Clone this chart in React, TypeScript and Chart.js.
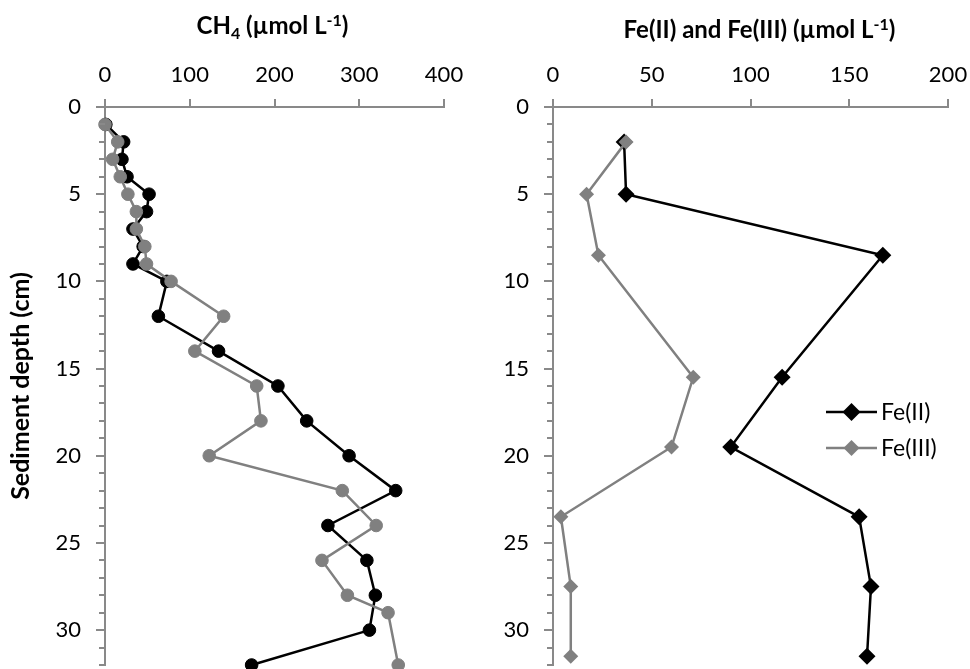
import React, { useEffect, useRef } from 'react';
import { Chart, registerables } from 'chart.js';

Chart.register(...registerables);

const FONT = 'Lato, "Open Sans", sans-serif';
const AXIS = '#898989';
const BLACK = '#000000';
const GRAY = '#808080';

// ---- data ----
const CH4_DEPTH_BLACK = [1, 2, 3, 4, 5, 6, 7, 8, 9, 10, 12, 14, 16, 18, 20, 22, 24, 26, 28, 30, 32];
const CH4_BLACK = [1, 22, 20, 26, 52, 49, 33, 45, 33, 73, 63, 134, 204, 238, 288, 343, 263, 309, 319, 312, 173];
const CH4_DEPTH_GRAY = [1, 2, 3, 4, 5, 6, 7, 8, 9, 10, 12, 14, 16, 18, 20, 22, 24, 26, 28, 29, 32];
const CH4_GRAY = [0, 15, 9, 18, 27, 37, 37, 47, 49, 78, 140, 106, 179, 184, 123, 280, 320, 256, 286, 334, 346];

const FE_DEPTH = [2, 5, 8.5, 15.5, 19.5, 23.5, 27.5, 31.5];
const FE_II = [36, 37, 167, 116, 90, 155, 161, 159];
const FE_III = [37, 17, 23, 71, 60, 4, 9, 9];

const CH4_TICKS = [0, 100, 200, 300, 400];
const FE_TICKS = [0, 50, 100, 150, 200];
const DEPTH_TICKS = [0, 5, 10, 15, 20, 25, 30];
const DEPTH_MAX = 32;

const Y_TITLE = 'Sediment depth (cm)';
const LEGEND_LABELS = ['Fe(II)', 'Fe(III)'];

type Part = { t: string; k?: 'sub' | 'sup' };
const CH4_TITLE: Part[] = [{ t: 'CH' }, { t: '4', k: 'sub' }, { t: ' (µmol L' }, { t: '-1', k: 'sup' }, { t: ')' }];
const FE_TITLE: Part[] = [{ t: 'Fe(II) and Fe(III) (µmol L' }, { t: '-1', k: 'sup' }, { t: ')' }];

function drawRich(ctx: CanvasRenderingContext2D, parts: Part[], cx: number, baseline: number, size: number) {
  const small = Math.round(size * 0.66);
  const fontOf = (k?: string) => `bold ${k ? small : size}px ${FONT}`;
  let total = 0;
  for (const p of parts) {
    ctx.font = fontOf(p.k);
    total += ctx.measureText(p.t).width;
  }
  let x = cx - total / 2;
  ctx.textAlign = 'left';
  ctx.textBaseline = 'alphabetic';
  ctx.fillStyle = '#000';
  for (const p of parts) {
    ctx.font = fontOf(p.k);
    const dy = p.k === 'sub' ? size * 0.22 : p.k === 'sup' ? -size * 0.32 : 0;
    ctx.fillText(p.t, x, baseline + dy);
    x += ctx.measureText(p.t).width;
  }
}

const minorTicks = {
  id: 'minorTicks',
  afterDraw(chart: any) {
    const y = chart.scales.y;
    const left = chart.chartArea.left;
    const ctx = chart.ctx;
    ctx.save();
    ctx.strokeStyle = AXIS;
    ctx.lineWidth = 2;
    for (let v = 0; v <= DEPTH_MAX; v++) {
      if (v % 5 === 0) continue;
      const py = Math.round(y.getPixelForValue(v));
      ctx.beginPath();
      ctx.moveTo(left - 6, py);
      ctx.lineTo(left, py);
      ctx.stroke();
    }
    ctx.restore();
  },
};

function titlePlugin(parts: Part[], dx: number, baseline: number, size: number) {
  return {
    id: 'richTitle',
    afterDraw(chart: any) {
      const { left, right } = chart.chartArea;
      const ctx = chart.ctx;
      ctx.save();
      drawRich(ctx, parts, (left + right) / 2 + dx, baseline, size);
      ctx.restore();
    },
  };
}

function diamond(ctx: CanvasRenderingContext2D, x: number, y: number, r: number) {
  ctx.beginPath();
  ctx.moveTo(x, y - r);
  ctx.lineTo(x + r, y);
  ctx.lineTo(x, y + r);
  ctx.lineTo(x - r, y);
  ctx.closePath();
  ctx.fill();
}

const legendPlugin = {
  id: 'feLegend',
  afterDraw(chart: any) {
    const { left, top } = chart.chartArea;
    const ctx = chart.ctx;
    const x0 = left + 273;
    ctx.save();
    LEGEND_LABELS.forEach((lab, i) => {
      const ds = chart.data.datasets[i];
      const y = top + 305 + i * 36;
      ctx.strokeStyle = ds.borderColor;
      ctx.fillStyle = ds.backgroundColor;
      ctx.lineWidth = ds.borderWidth;
      ctx.beginPath();
      ctx.moveTo(x0, y);
      ctx.lineTo(x0 + 51, y);
      ctx.stroke();
      diamond(ctx, x0 + 25.5, y, ds.pointRadius + 0.5);
      ctx.fillStyle = '#000';
      ctx.font = `23px ${FONT}`;
      ctx.textAlign = 'left';
      ctx.textBaseline = 'middle';
      ctx.fillText(lab, x0 + 55, y + 1);
    });
    ctx.restore();
  },
};

function zeroPad(s: any) {
  s.paddingTop = 0;
  s.paddingBottom = 0;
  s.paddingLeft = 0;
  s.paddingRight = 0;
}

function axes(xMax: number, xTicks: number[], yWidth: number, withTitle: boolean) {
  const tickFont = { family: FONT, size: 22 };
  return {
    x: {
      type: 'linear',
      position: 'top',
      min: 0,
      max: xMax,
      afterBuildTicks: (s: any) => {
        s.ticks = xTicks.map((v) => ({ value: v }));
      },
      afterFit: (s: any) => {
        s.height = 107;
        zeroPad(s);
      },
      grid: { drawOnChartArea: false, drawTicks: true, tickLength: 8, color: AXIS, lineWidth: 2 },
      border: { display: true, color: AXIS, width: 2 },
      ticks: { font: tickFont, color: '#000', padding: 11, maxRotation: 0, autoSkip: false },
    },
    y: {
      type: 'linear',
      reverse: true,
      min: 0,
      max: DEPTH_MAX,
      afterBuildTicks: (s: any) => {
        s.ticks = DEPTH_TICKS.map((v) => ({ value: v }));
      },
      afterFit: (s: any) => {
        s.width = yWidth;
        zeroPad(s);
      },
      grid: { drawOnChartArea: false, drawTicks: true, tickLength: 9, color: AXIS, lineWidth: 2 },
      border: { display: true, color: AXIS, width: 2 },
      ticks: { font: tickFont, color: '#000', padding: 15, autoSkip: false },
      title: {
        display: withTitle,
        text: Y_TITLE,
        color: '#000',
        font: { family: FONT, size: 25, weight: 'bold' },
        padding: { top: 6, bottom: 0 },
      },
    },
  };
}

function pts(xs: number[], ys: number[]) {
  return ys.map((d, i) => ({ x: xs[i], y: d }));
}

export default function App() {
  const leftRef = useRef<HTMLCanvasElement>(null);
  const rightRef = useRef<HTMLCanvasElement>(null);

  useEffect(() => {
    const common = {
      responsive: false,
      maintainAspectRatio: false,
      animation: false,
      events: [],
    };
    const left = new Chart(leftRef.current!, {
      type: 'scatter',
      data: {
        datasets: [
          {
            label: 'CH4 black',
            data: pts(CH4_BLACK, CH4_DEPTH_BLACK),
            showLine: true,
            borderColor: BLACK,
            backgroundColor: BLACK,
            borderWidth: 2.5,
            pointRadius: 6.3,
            pointBorderWidth: 1,
            pointStyle: 'circle',
            order: 1,
            clip: false,
          },
          {
            label: 'CH4 gray',
            data: pts(CH4_GRAY, CH4_DEPTH_GRAY),
            showLine: true,
            borderColor: GRAY,
            backgroundColor: GRAY,
            borderWidth: 2.5,
            pointRadius: 6.3,
            pointBorderWidth: 1,
            pointStyle: 'circle',
            order: 0,
            clip: false,
          },
        ],
      },
      options: {
        ...common,
        layout: { autoPadding: false, padding: { left: 0, right: 46, top: 0, bottom: 4 } },
        scales: axes(400, CH4_TICKS, 105, true) as any,
        plugins: { legend: { display: false }, tooltip: { enabled: false } },
      } as any,
      plugins: [minorTicks, titlePlugin(CH4_TITLE, -2, 33.5, 24)],
    });

    const right = new Chart(rightRef.current!, {
      type: 'scatter',
      data: {
        datasets: [
          {
            label: 'Fe(II)',
            data: pts(FE_II, FE_DEPTH),
            showLine: true,
            borderColor: BLACK,
            backgroundColor: BLACK,
            borderWidth: 2.5,
            pointRadius: 8.5,
            pointBorderWidth: 0,
            pointStyle: 'rectRot',
            order: 1,
            clip: false,
          },
          {
            label: 'Fe(III)',
            data: pts(FE_III, FE_DEPTH),
            showLine: true,
            borderColor: GRAY,
            backgroundColor: GRAY,
            borderWidth: 2.5,
            pointRadius: 7.5,
            pointBorderWidth: 0,
            pointStyle: 'rectRot',
            order: 0,
            clip: false,
          },
        ],
      },
      options: {
        ...common,
        layout: { autoPadding: false, padding: { left: 0, right: 22, top: 0, bottom: 4 } },
        scales: axes(200, FE_TICKS, 63, false) as any,
        plugins: { legend: { display: false }, tooltip: { enabled: false } },
      } as any,
      plugins: [minorTicks, titlePlugin(FE_TITLE, 9, 37.5, 24), legendPlugin],
    });

    return () => {
      left.destroy();
      right.destroy();
    };
  }, []);

  return (
    <div style={{ position: 'absolute', left: 0, top: 0, width: 970, height: 669, background: '#fff', overflow: 'hidden' }}>
      <canvas ref={leftRef} width={490} height={669} style={{ position: 'absolute', left: 0, top: 0, width: 490, height: 669 }} />
      <canvas ref={rightRef} width={480} height={669} style={{ position: 'absolute', left: 490, top: 0, width: 480, height: 669 }} />
    </div>
  );
}
